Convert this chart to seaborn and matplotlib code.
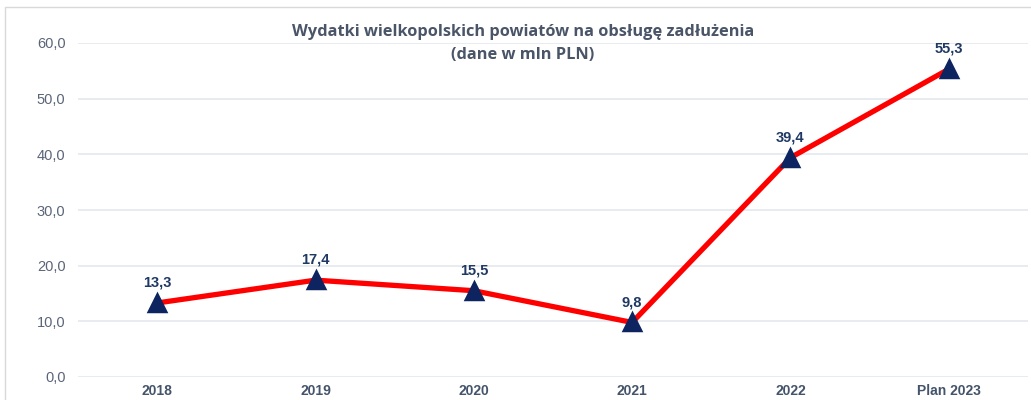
import matplotlib.pyplot as plt
import pandas as pd
import seaborn as sns
from matplotlib.patches import Rectangle
from matplotlib.ticker import FuncFormatter

# dane wykresu
years = ['2018', '2019', '2020', '2021', '2022', 'Plan 2023']
values = [13.3, 17.4, 15.5, 9.8, 39.4, 55.3]
y_ticks = [0, 10, 20, 30, 40, 50, 60]

TITLE = 'Wydatki wielkopolskich powiatów na obsługę zadłużenia\n(dane w mln PLN)'
LINE_COLOR = '#FF0000'
MARKER_COLOR = '#0D2461'
LABEL_COLOR = '#1F3864'
TICK_COLOR = '#5B6578'
CAT_COLOR = '#44546A'
GRID_COLOR = '#E6E9EE'

sns.set_theme(style='white')
plt.rcParams['font.family'] = ['Liberation Sans', 'DejaVu Sans']

df = pd.DataFrame({'rok': years, 'wartosc': values})

fig = plt.figure(figsize=(10.31, 4.0), dpi=100)
ax = fig.add_axes([0.0757, 0.0575, 0.9213, 0.835])

# ramka wokół wykresu
fig.patches.append(Rectangle((0.005, -0.01), 1.2, 0.9925, transform=fig.transFigure,
                             fill=False, edgecolor='#D9D9D9', linewidth=1.0))

sns.lineplot(data=df, x='rok', y='wartosc', ax=ax, sort=False,
             color=LINE_COLOR, linewidth=3.8, marker='^', markersize=12,
             markerfacecolor=MARKER_COLOR, markeredgecolor=MARKER_COLOR,
             markeredgewidth=2.5, zorder=3)
for ln in ax.lines:
    ln.set_solid_joinstyle('round')

for i, v in enumerate(values):
    ax.annotate(f'{v:.1f}'.replace('.', ','), (i, v), xytext=(0, 9.5),
                textcoords='offset points', ha='center', va='bottom',
                fontsize=10.5, fontweight='bold', color=LABEL_COLOR)

ax.set_xlim(-0.5, len(years) - 0.5)
ax.set_ylim(0, 60)
ax.set_yticks(y_ticks)
ax.yaxis.set_major_formatter(FuncFormatter(lambda v, p: f'{v:.1f}'.replace('.', ',')))
ax.yaxis.grid(True, color=GRID_COLOR, linewidth=1.3)
ax.set_axisbelow(True)
for s in ax.spines.values():
    s.set_visible(False)
ax.tick_params(axis='y', length=0, pad=9, labelsize=10.5, labelcolor=TICK_COLOR)
ax.tick_params(axis='x', length=0, pad=5, labelsize=10, labelcolor=CAT_COLOR)
for lbl in ax.get_xticklabels():
    lbl.set_fontweight('bold')
ax.set_xlabel('')
ax.set_ylabel('')

fig.text(0.507, 0.94, TITLE, ha='center', va='top', fontsize=11.8,
         fontweight='bold', color='#4A5568', family=['Open Sans', 'DejaVu Sans'],
         linespacing=1.55)

fig.savefig('out.png', dpi=100)
